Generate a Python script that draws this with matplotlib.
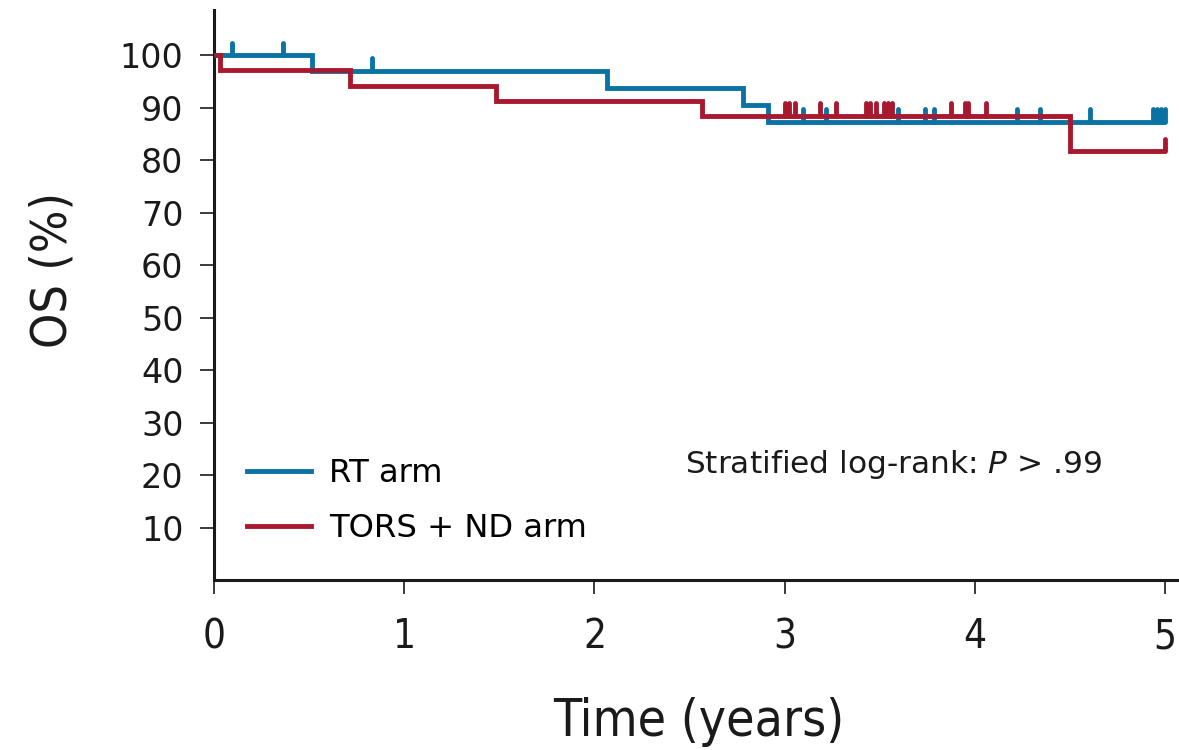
import numpy as np
import matplotlib
matplotlib.use('Agg')
import matplotlib.pyplot as plt
from matplotlib import font_manager
from matplotlib.font_manager import FontProperties

# step data (time in years, OS in %)
rt_times = [0, 0.515, 2.065, 2.78, 2.91]
rt_surv = [100, 97.0, 93.7, 90.5, 87.3]
rt_censor = [0.095, 0.363, 0.831, 3.097, 3.218, 3.596, 3.738, 3.785,
             4.222, 4.343, 4.606, 4.937, 4.958, 4.979, 5.0]

tors_times = [0, 0.03, 0.715, 1.48, 2.564, 4.50]
tors_surv = [100, 97.2, 94.2, 91.2, 88.4, 81.7]
tors_censor = [3.002, 3.023, 3.055, 3.186, 3.270, 3.428, 3.449, 3.481,
               3.523, 3.544, 3.565, 3.875, 3.948, 3.964, 4.059, 5.0]

end_time = 5.0
x_ticks = [0, 1, 2, 3, 4, 5]
y_ticks = [10, 20, 30, 40, 50, 60, 70, 80, 90, 100]

blue = '#0a73a4'
red = '#a8182f'
ink = '#1a1a1a'


def find_narrow():
    # look for a condensed face among the installed fonts
    prefs = ['LiberationSansNarrow-Regular', 'DejaVuSansCondensed.ttf',
             'RobotoCondensed', 'OpenSans_Condensed', 'NotoSans-Condensed']
    files = [f.fname for f in font_manager.fontManager.ttflist]
    for p in prefs:
        for fn in files:
            if p in fn and 'Bold' not in fn and 'Oblique' not in fn and 'Italic' not in fn:
                return fn
    return None


narrow_file = find_narrow()


def nprop(size):
    if narrow_file:
        return FontProperties(fname=narrow_file, size=size)
    return FontProperties(family='DejaVu Sans', stretch='condensed', size=size)


def draw_km(ax, times, surv, censor, color, z):
    t = list(times) + [end_time]
    s = list(surv) + [surv[-1]]
    ax.step(t, s, where='post', color=color, lw=3.5, zorder=z,
            solid_joinstyle='miter', solid_capstyle='butt')
    idx = np.searchsorted(np.array(times), np.array(censor), side='right') - 1
    cy = np.array(surv)[idx]
    vl = ax.vlines(censor, cy, cy + 2.4, color=color, lw=3.5, zorder=z)
    vl.set_capstyle('round')


fig = plt.figure(figsize=(11.79, 7.5), dpi=100)
ax = fig.add_axes([214 / 1179, 1 - 580 / 750, (1178 - 214) / 1179, (580 - 10) / 750])

draw_km(ax, rt_times, rt_surv, rt_censor, blue, 3)
draw_km(ax, tors_times, tors_surv, tors_censor, red, 4)

ax.set_xlim(0, 5.068)
ax.set_ylim(0, 108.6)
ax.spines['top'].set_visible(False)
ax.spines['right'].set_visible(False)
for sp in ['left', 'bottom']:
    ax.spines[sp].set_linewidth(2.2)
    ax.spines[sp].set_color(ink)

ax.set_xticks(x_ticks)
ax.set_yticks(y_ticks)
ax.tick_params(axis='both', direction='out', length=10, width=1.2, color=ink)
ax.tick_params(axis='x', pad=17)
ax.tick_params(axis='y', pad=12)
for lab in ax.get_xticklabels():
    lab.set_fontproperties(nprop(29))
    lab.set_color(ink)
for lab in ax.get_yticklabels():
    lab.set_fontfamily('DejaVu Sans')
    lab.set_fontsize(24)
    lab.set_color(ink)

ax.set_xlabel('Time (years)', fontproperties=nprop(37), color=ink)
ax.xaxis.set_label_coords(0.503, -0.205)
ax.set_ylabel('OS (%)', fontproperties=nprop(36), color=ink)
ax.yaxis.set_label_coords(-0.143, 0.544)

h1, = ax.plot([], [], color=blue, lw=3.5)
h2, = ax.plot([], [], color=red, lw=3.5)
ax.legend([h1, h2], ['RT arm', 'TORS + ND arm'], loc='upper left',
          bbox_to_anchor=(247 / 1179, 1 - 458 / 750), bbox_transform=fig.transFigure,
          frameon=False, prop={'family': 'DejaVu Sans', 'size': 23.2},
          borderpad=0, borderaxespad=0,
          handlelength=2.0, handletextpad=0.55, labelspacing=0.74)

ax.text(685 / 1179, 1 - 473 / 750, 'Stratified log-rank: $\\mathit{P}$ > .99',
        transform=fig.transFigure, fontfamily='DejaVu Sans', fontsize=22.5,
        color=ink, va='baseline', ha='left')

fig.savefig('out.png', dpi=100)
